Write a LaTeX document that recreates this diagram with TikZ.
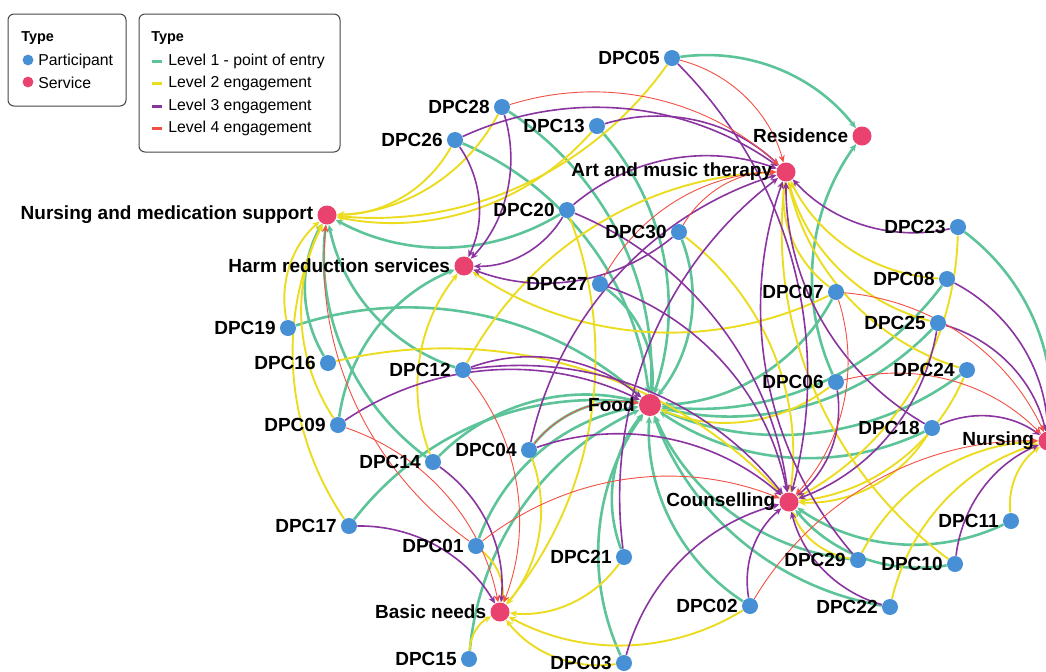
\documentclass[tikz,border=0pt]{standalone}
\usepackage{fontspec}
\setmainfont{Liberation Sans}
\usetikzlibrary{arrows.meta,backgrounds}
\definecolor{pblue}{RGB}{72,144,214}
\definecolor{spink}{RGB}{233,66,110}
\definecolor{cgreen}{RGB}{92,196,152}
\definecolor{cyellow}{RGB}{236,220,32}
\definecolor{cpurple}{RGB}{138,52,160}
\definecolor{cred}{RGB}{242,80,66}
\definecolor{boxc}{RGB}{70,70,70}
\newcommand\lk[3]{\draw[#1] (#2) to (#3);}
\begin{document}
\begin{tikzpicture}[x=0.5pt,y=-0.5pt,
  part/.style={circle,fill=pblue,inner sep=0pt,minimum size=8pt},
  serv/.style={circle,fill=spink,inner sep=0pt,minimum size=9.5pt},
  lbl/.style={font=\bfseries\fontsize{9.5}{11}\selectfont,inner sep=0.3pt,text=black},
  ed/.style={-{Stealth[length=3.6pt,width=3.2pt]},bend left=30,looseness=0.92},
  l1/.style={ed,draw=cgreen,line width=1.3pt},
  l2/.style={ed,draw=cyellow,line width=0.95pt},
  l3/.style={ed,draw=cpurple,line width=0.8pt},
  l4/.style={ed,draw=cred,line width=0.45pt},
  legbox/.style={draw=boxc,line width=0.5pt,rounded corners=3pt,fill=white},
  legt/.style={font=\fontsize{7.9}{9}\selectfont,anchor=west,inner sep=0pt},
  legh/.style={font=\bfseries\fontsize{7.2}{9}\selectfont,anchor=west,inner sep=0pt},
  legdash/.style={line width=1.5pt}
]
\useasboundingbox (0,0) rectangle (1046,671);

% services
\node[serv,label={[lbl,label distance=1.5pt]left:Residence}] (Res) at (862,136) {};
\node[serv,label={[lbl,label distance=1.5pt]left:Art and music therapy}] (Art) at (786,172) {};
\node[serv,label={[lbl,label distance=1.5pt]left:Nursing and medication support}] (NMS) at (327,215) {};
\node[serv,label={[lbl,label distance=1.5pt]left:Harm reduction services}] (HR) at (464,266) {};
\node[serv,minimum size=11pt,label={[lbl,label distance=1.5pt]left:Food}] (Food) at (650,405) {};
\node[serv,label={[lbl,label distance=1.5pt]left:Nursing}] (Nur) at (1048,441) {};
\node[serv,label={[lbl,label distance=1.5pt]left:Counselling}] (Cou) at (789,502) {};
\node[serv,label={[lbl,label distance=1.5pt]left:Basic needs}] (BN) at (500,612) {};

% participants
\foreach \n/\x/\y in {DPC05/672/58, DPC28/502/107, DPC13/597/126, DPC26/455/140,
  DPC20/567/210, DPC30/679/232, DPC23/958/227, DPC27/600/284, DPC08/947/279,
  DPC07/836/292, DPC19/288/328, DPC25/938/323, DPC16/328/363, DPC12/463/370,
  DPC24/967/370, DPC06/836/382, DPC09/338/425, DPC18/932/428, DPC14/433/462,
  DPC04/529/450, DPC17/349/526, DPC11/1011/521, DPC01/476/546, DPC21/624/557,
  DPC29/858/560, DPC10/955/564, DPC02/750/606, DPC22/890/607, DPC15/469/659,
  DPC03/624/663}
  \node[part,label={[lbl,label distance=1.5pt]left:\n}] (\n) at (\x,\y) {};

\begin{scope}[on background layer]
% level 1
\lk{l1}{DPC05}{Res}
\lk{l1}{DPC06}{Res}
\lk{l1}{DPC20}{NMS}
\lk{l1}{DPC16}{NMS}
\lk{l1}{DPC12}{NMS}
\lk{l1}{DPC14}{NMS}
\lk{l1}{DPC09}{HR}
\lk{l1}{DPC23}{Nur}
\lk{l1}{DPC11}{Cou}
\lk{l1}{DPC10}{Cou}
\foreach \p in {DPC28,DPC13,DPC26,DPC30,DPC27,DPC08,DPC07,DPC19,DPC25,DPC24,
  DPC18,DPC14,DPC17,DPC01,DPC21,DPC29,DPC02,DPC22,DPC15,DPC03,DPC04}
  {\lk{l1}{\p}{Food}}
% level 2
\foreach \p in {DPC05,DPC28,DPC26,DPC13,DPC19,DPC17,DPC09}
  {\lk{l2}{\p}{NMS}}
\lk{l2}{DPC14}{HR}
\lk{l2}{DPC07}{HR}
\lk{l2}{DPC12}{Art}
\lk{l2}{DPC08}{Art}
\lk{l2}{DPC25}{Art}
\lk{l2}{DPC24}{Art}
\lk{l2}{DPC07}{Art}
\lk{l2}{DPC10}{Art}
\lk{l2}{DPC16}{Cou}
\lk{l2}{DPC30}{Cou}
\lk{l2}{DPC23}{Cou}
\lk{l2}{DPC24}{Cou}
\lk{l2}{DPC18}{Cou}
\lk{l2}{DPC29}{Cou}
\lk{l2}{DPC06}{Food}
\lk{l2}{DPC20}{BN}
\lk{l2}{DPC04}{BN}
\lk{l2}{DPC01}{BN}
\lk{l2}{DPC21}{BN}
\lk{l2}{DPC15}{BN}
\lk{l2}{DPC03}{BN}
\lk{l2}{DPC02}{BN}
\lk{l2}{DPC11}{Nur}
\lk{l2}{DPC22}{Nur}
\lk{l2}{DPC29}{Nur}
% level 3
\lk{l3}{DPC13}{Art}
\lk{l3}{DPC26}{Art}
\lk{l3}{DPC20}{Art}
\lk{l3}{DPC23}{Art}
\lk{l3}{DPC18}{Art}
\lk{l3}{DPC04}{Art}
\lk{l3}{DPC21}{Art}
\lk{l3}{DPC29}{Art}
\lk{l3}{DPC28}{HR}
\lk{l3}{DPC26}{HR}
\lk{l3}{DPC20}{HR}
\lk{l3}{DPC30}{HR}
\lk{l3}{DPC05}{Cou}
\lk{l3}{DPC20}{Cou}
\lk{l3}{DPC27}{Cou}
\lk{l3}{DPC04}{Cou}
\lk{l3}{DPC06}{Cou}
\lk{l3}{DPC12}{Cou}
\lk{l3}{DPC25}{Cou}
\lk{l3}{DPC02}{Cou}
\lk{l3}{DPC22}{Cou}
\lk{l3}{DPC03}{Cou}
\lk{l3}{DPC12}{Food}
\lk{l3}{DPC09}{Food}
\lk{l3}{DPC14}{BN}
\lk{l3}{DPC17}{BN}
\lk{l3}{DPC08}{Nur}
\lk{l3}{DPC25}{Nur}
\lk{l3}{DPC18}{Nur}
\lk{l3}{DPC10}{Nur}
% level 4
\lk{l4}{DPC05}{Art}
\lk{l4}{DPC28}{Art}
\lk{l4}{DPC30}{Art}
\lk{l4}{DPC27}{Art}
\lk{l4}{DPC07}{Cou}
\lk{l4}{DPC01}{Cou}
\lk{l4}{DPC07}{Nur}
\lk{l4}{DPC06}{Nur}
\lk{l4}{DPC02}{Nur}
\lk{l4}{DPC09}{BN}
\lk{l4}{DPC12}{BN}
\lk{l4}{DPC04}{Food}
\lk{l4}{DPC01}{NMS}
\end{scope}

% legends
\draw[legbox] (8,14) rectangle (126,106);
\node[legh] (lt1) at (21,38) {Type};
\fill[pblue] (28,60) circle (2.7pt);
\node[legt] (lp) at (38,61) {Participant};
\fill[spink] (28,82) circle (2.7pt);
\node[legt] (ls) at (38,83) {Service};

\draw[legbox] (139,14) rectangle (340,152);
\node[legh] (lt2) at (151,38) {Type};
\draw[legdash,cgreen] (152,61) -- (162,61);
\node[legt] (la) at (168,61) {Level 1 - point of entry};
\draw[legdash,cyellow] (152,83) -- (162,83);
\node[legt] (lb) at (168,83) {Level 2 engagement};
\draw[legdash,cpurple] (152,106) -- (162,106);
\node[legt] (lc) at (168,106) {Level 3 engagement};
\draw[legdash,cred] (152,128) -- (162,128);
\node[legt] (ld) at (168,128) {Level 4 engagement};
\end{tikzpicture}
\end{document}
